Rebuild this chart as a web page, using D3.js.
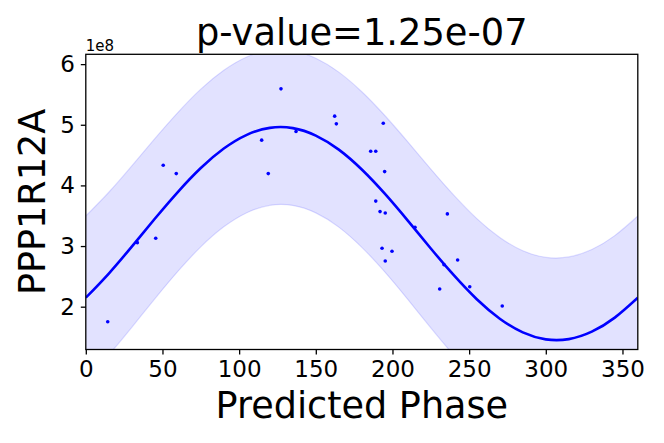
<!DOCTYPE html>
<html>
<head>
<meta charset="utf-8">
<script src="https://cdn.jsdelivr.net/npm/d3@7"></script>
<style>
  html, body { margin: 0; padding: 0; background: #fff; }
  svg { display: block; font-family: "DejaVu Sans", sans-serif; }
</style>
</head>
<body>
<svg id="chart" width="664" height="443"></svg>
<script>
// ---- data (values in units of 1e8) ----
const pointPhase = [14.3, 33.6, 45.6, 50.5, 59.0, 114.7, 119.0, 127.3, 137.1, 162.3,
  163.4, 185.8, 189.1, 194.0, 194.9, 189.1, 191.9, 195.3, 193.2, 199.7,
  195.3, 214.7, 235.8, 233.6, 242.5, 230.8, 250.4, 271.6];
const pointValue = [1.752, 3.056, 3.129, 4.333, 4.195, 4.746, 4.195, 5.592, 4.888, 5.142,
  5.015, 4.564, 4.564, 5.026, 4.228, 3.741, 3.568, 3.546, 2.964, 2.914,
  2.754, 3.310, 3.530, 2.693, 2.771, 2.292, 2.330, 2.012];

const curvePhase = [0, 15, 30, 45, 60, 75, 90, 105, 120, 135, 150, 165, 180,
  195, 210, 225, 240, 255, 270, 285, 300, 315, 330, 345, 360];
const curveFit = [2.148, 2.547, 2.991, 3.450, 3.891, 4.287, 4.608, 4.834, 4.949, 4.945,
  4.822, 4.590, 4.262, 3.863, 3.419, 2.960, 2.519, 2.123, 1.802, 1.576,
  1.461, 1.465, 1.588, 1.820, 2.148];
const bandUpper = [3.495, 3.887, 4.322, 4.771, 5.201, 5.587, 5.899, 6.118, 6.227, 6.220,
  6.097, 5.868, 5.545, 5.153, 4.718, 4.269, 3.839, 3.453, 3.141, 2.923,
  2.813, 2.820, 2.943, 3.172, 3.495];
const bandLower = [0.801, 1.207, 1.660, 2.129, 2.581, 2.987, 3.317, 3.550, 3.671, 3.670,
  3.547, 3.312, 2.979, 2.573, 2.120, 1.651, 1.199, 0.793, 0.463, 0.229,
  0.109, 0.110, 0.233, 0.468, 0.801];

const xTicks = [0, 50, 100, 150, 200, 250, 300, 350];
const yTicks = [2, 3, 4, 5, 6];
const titleText = "p-value=1.25e-07";
const xLabel = "Predicted Phase";
const yLabel = "PPP1R12A";
const offsetText = "1e8";

// ---- layout ----
const svg = d3.select("#chart");
const L = 85.8, R = 637.8, T = 54.3, B = 349.5;
const x = d3.scaleLinear().domain([0, 360]).range([L, R]);
const y = d3.scaleLinear().domain([1.294, 6.162]).range([B, T]);

svg.append("defs").append("clipPath").attr("id", "plotclip")
  .append("rect").attr("x", L).attr("y", T).attr("width", R - L).attr("height", B - T);

const plot = svg.append("g").attr("clip-path", "url(#plotclip)");

const bandData = curvePhase.map((p, i) => ({ p, lo: bandLower[i], hi: bandUpper[i], f: curveFit[i] }));

plot.append("path")
  .datum(bandData)
  .attr("d", d3.area().x(d => x(d.p)).y0(d => y(d.lo)).y1(d => y(d.hi)).curve(d3.curveNatural))
  .attr("fill", "#0000ff").attr("fill-opacity", 0.115).attr("stroke", "none");

["lo", "hi"].forEach(k => {
  plot.append("path")
    .datum(bandData)
    .attr("d", d3.line().x(d => x(d.p)).y(d => y(d[k])).curve(d3.curveNatural))
    .attr("fill", "none").attr("stroke", "#0000ff").attr("stroke-opacity", 0.13).attr("stroke-width", 1.2);
});

plot.append("path")
  .datum(bandData)
  .attr("d", d3.line().x(d => x(d.p)).y(d => y(d.f)).curve(d3.curveNatural))
  .attr("fill", "none").attr("stroke", "#0000ff").attr("stroke-width", 2.6);

plot.selectAll("circle.pt")
  .data(pointPhase.map((p, i) => [p, pointValue[i]]))
  .enter().append("circle")
  .attr("class", "pt")
  .attr("cx", d => x(d[0])).attr("cy", d => y(d[1]))
  .attr("r", 1.8).attr("fill", "#0000ff");

// ---- frame ----
svg.append("rect").attr("x", L).attr("y", T).attr("width", R - L).attr("height", B - T)
  .attr("fill", "none").attr("stroke", "#000").attr("stroke-width", 1.3);

// ---- axes ----
const xAxis = d3.axisBottom(x).tickValues(xTicks).tickSize(5).tickPadding(6).tickFormat(d3.format("d"));
const gx = svg.append("g").attr("transform", `translate(0,${B})`).call(xAxis);
gx.select(".domain").remove();
gx.selectAll("line").attr("stroke", "#000").attr("stroke-width", 1.3);
gx.selectAll("text").attr("font-size", 23).attr("fill", "#000").attr("font-family", "DejaVu Sans");

const yAxis = d3.axisLeft(y).tickValues(yTicks).tickSize(5).tickPadding(6).tickFormat(d3.format("d"));
const gy = svg.append("g").attr("transform", `translate(${L},0)`).call(yAxis);
gy.select(".domain").remove();
gy.selectAll("line").attr("stroke", "#000").attr("stroke-width", 1.3);
gy.selectAll("text").attr("font-size", 23).attr("fill", "#000").attr("font-family", "DejaVu Sans");

// ---- texts ----
svg.append("text").attr("x", L).attr("y", 50.5).attr("font-size", 15).text(offsetText);

svg.append("text").attr("x", (L + R) / 2).attr("y", 45).attr("text-anchor", "middle")
  .attr("font-size", 36.8).text(titleText);

svg.append("text").attr("x", (L + R) / 2).attr("y", 418).attr("text-anchor", "middle")
  .attr("font-size", 36.6).text(xLabel);

svg.append("text").attr("transform", `translate(45,${(T + B) / 2}) rotate(-90)`)
  .attr("text-anchor", "middle").attr("font-size", 36.6).text(yLabel);
</script>
</body>
</html>
